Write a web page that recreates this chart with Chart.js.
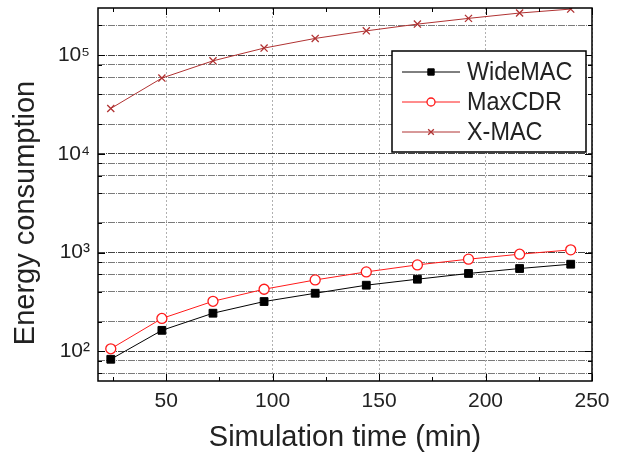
<!DOCTYPE html>
<html>
<head>
<meta charset="utf-8">
<script src="https://cdn.jsdelivr.net/npm/chart.js@4"></script>
<style>
  html, body { margin:0; padding:0; background:#fff; }
</style>
</head>
<body>
<canvas id="chart" width="621" height="460"></canvas>
<script>
// ---- data ----
var simTime = [24, 48, 72, 96, 120, 144, 168, 192, 216, 240];
var wideMAC = [83, 163, 243, 319, 387, 467, 537, 614, 689, 762];
var maxCDR  = [106, 215, 321, 425, 528, 637, 750, 857, 962, 1065];
var xMAC    = [28800, 58500, 87500, 117800, 147600, 176000, 206000, 235500, 266700, 292600];

var xTicks = [50, 100, 150, 200, 250];
var xMinorTicks = [25, 75, 125, 175, 225];
var yTicks = [60, 80, 100, 200, 400, 600, 800, 1000, 2000, 4000, 6000, 8000,
              10000, 20000, 40000, 60000, 80000, 100000, 200000];
var yLabels = { 100:'10\u00B2', 1000:'10\u00B3', 10000:'10\u2074', 100000:'10\u2075' };
var yTitle = 'Energy consumption';

var FONT = "'Liberation Sans', Arial, sans-serif";
var TEXT = '#222';

function pts(ys) {
  return simTime.map(function(t, i) { return { x:t, y:ys[i] }; });
}

// box around plot, inward tick marks, y title, legend inside the plot
var framePlugin = {
  id: 'frame',
  afterDraw: function(chart) {
    var ctx = chart.ctx, a = chart.chartArea;
    var xs = chart.scales.x, ys = chart.scales.y;
    ctx.save();
    ctx.strokeStyle = '#000';
    ctx.lineWidth = 1.5;
    ctx.setLineDash([]);
    ctx.strokeRect(a.left, a.top, a.right - a.left, a.bottom - a.top);

    ctx.lineWidth = 1;
    ctx.beginPath();
    xTicks.concat(xMinorTicks).forEach(function(v) {
      var px = Math.round(xs.getPixelForValue(v)) + 0.5;
      var len = xMinorTicks.indexOf(v) >= 0 ? 4 : 7;
      ctx.moveTo(px, a.bottom); ctx.lineTo(px, a.bottom - len);
      ctx.moveTo(px, a.top); ctx.lineTo(px, a.top + len);
    });
    yTicks.forEach(function(v) {
      var py = Math.round(ys.getPixelForValue(v)) + 0.5;
      var len = yLabels[v] ? 7 : 4;
      ctx.moveTo(a.left, py); ctx.lineTo(a.left + len, py);
      ctx.moveTo(a.right, py); ctx.lineTo(a.right - len, py);
    });
    ctx.stroke();

    // y axis title
    ctx.save();
    ctx.translate(26, 213);
    ctx.rotate(-Math.PI / 2);
    ctx.fillStyle = TEXT;
    ctx.font = '29px ' + FONT;
    ctx.textAlign = 'center';
    ctx.textBaseline = 'middle';
    ctx.fillText(yTitle, 0, 0);
    ctx.restore();

    // legend
    var lx = a.right - 200, ly = a.top + 43, lw = 194, lh = 101;
    ctx.fillStyle = '#fff';
    ctx.fillRect(lx, ly, lw, lh);
    ctx.strokeStyle = '#000';
    ctx.lineWidth = 1.5;
    ctx.strokeRect(lx, ly, lw, lh);
    chart.data.datasets.forEach(function(ds, i) {
      var y = ly + 21 + i * 30;
      ctx.strokeStyle = ds.borderColor;
      ctx.lineWidth = 1;
      ctx.beginPath();
      ctx.moveTo(lx + 10, y); ctx.lineTo(lx + 68, y);
      ctx.stroke();
      ctx.fillStyle = ds.pointBackgroundColor;
      ctx.strokeStyle = ds.borderColor;
      ctx.lineWidth = ds.pointBorderWidth;
      Chart.helpers.drawPoint(ctx, { pointStyle: ds.pointStyle, radius: ds.pointRadius - 1, rotation: 0, borderWidth: ds.pointBorderWidth }, lx + 39, y);
      // label, slightly condensed like the original
      ctx.save();
      ctx.translate(lx + 75, y + 1);
      ctx.scale(0.9, 1);
      ctx.fillStyle = TEXT;
      ctx.font = '26px ' + FONT;
      ctx.textBaseline = 'middle';
      ctx.textAlign = 'left';
      ctx.fillText(ds.label, 0, 0);
      ctx.restore();
    });
    ctx.restore();
  }
};

new Chart(document.getElementById('chart'), {
  type: 'line',
  data: {
    datasets: [
      { label:'WideMAC', data:pts(wideMAC), borderColor:'#000', borderWidth:1,
        pointStyle:'rect', pointRadius:5.5, pointBackgroundColor:'#000', pointBorderWidth:1 },
      { label:'MaxCDR', data:pts(maxCDR), borderColor:'#ff1a1a', borderWidth:1,
        pointStyle:'circle', pointRadius:5, pointBackgroundColor:'#fff', pointBorderWidth:1.3 },
      { label:'X-MAC', data:pts(xMAC), borderColor:'#b03232', borderWidth:1,
        pointStyle:'crossRot', pointRadius:5, pointBackgroundColor:'#b03232', pointBorderWidth:1.3 }
    ]
  },
  options: {
    responsive: false,
    animation: false,
    devicePixelRatio: 1,
    layout: { padding: { top:8, right:29, left:0, bottom:0 } },
    plugins: { legend: { display:false }, tooltip: { enabled:false } },
    scales: {
      x: {
        type: 'linear', min: 18, max: 250,
        afterBuildTicks: function(s) { s.ticks = xTicks.map(function(v) { return { value:v }; }); },
        afterFit: function(s) { s.height = 79; s.paddingLeft = 0; s.paddingRight = 0; },
        ticks: { font:{ family:FONT, size:21 }, color:TEXT, padding:8, maxRotation:0, autoSkip:false },
        grid: { color:'#b0b0b0', drawTicks:false, lineWidth:1 },
        border: { display:false, dash:[2, 2] },
        title: { display:true, text:'Simulation time (min)', font:{ family:FONT, size:29 }, color:TEXT, padding:{ top:0, bottom:5 } }
      },
      y: {
        type: 'logarithmic', min: 50, max: 300000,
        afterBuildTicks: function(s) { s.ticks = yTicks.map(function(v) { return { value:v }; }); },
        afterFit: function(s) { s.width = 98; s.paddingTop = 0; s.paddingBottom = 0; },
        ticks: { font:{ family:FONT, size:21 }, color:TEXT, padding:8, autoSkip:false,
                 callback: function(v) { return yLabels[v] || ''; } },
        grid: { drawTicks:false, lineWidth:1,
                color: function(c) { return c.tick && yLabels[c.tick.value] ? '#444' : '#7a7a7a'; } },
        border: { display:false, dash:[7, 1, 1, 1] },
        title: { display:false }
      }
    }
  },
  plugins: [framePlugin]
});
</script>
</body>
</html>
